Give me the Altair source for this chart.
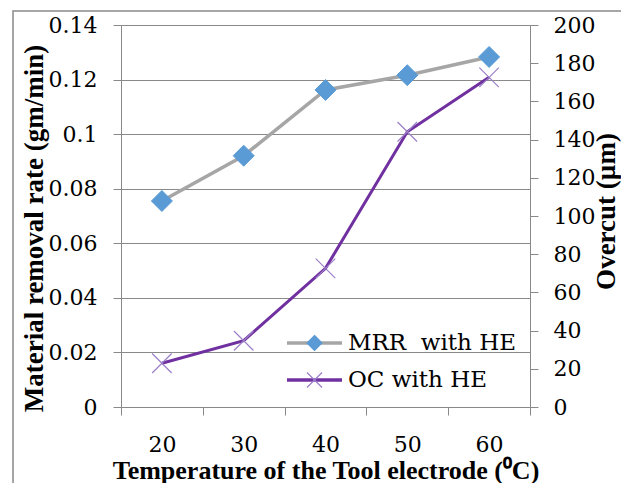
import altair as alt
import pandas as pd

# ---- data ----
temps = ["20", "30", "40", "50", "60"]
mrr = [0.0755, 0.0921, 0.1162, 0.1216, 0.1283]
oc = [22.9, 34.7, 72.6, 144.1, 172.6]
series_names = ["MRR\u00a0 with HE", "OC with HE"]
marker_names = ["mrr_marker", "oc_marker"]
left_ticks = [0, 0.02, 0.04, 0.06, 0.08, 0.1, 0.12, 0.14]
right_ticks = [0, 20, 40, 60, 80, 100, 120, 140, 160, 180, 200]

TFONT = "Liberation Serif"
LFONT = "DejaVu Serif"
GRID = "#898989"
MRR_LINE = "#A6A6A6"
OC_LINE = "#7030A0"
MRR_MARK = "#5B9BD5"
OC_MARK = "#9B7FC7"

mrr_df = pd.DataFrame({"temp": temps, "val": mrr,
                       "series": series_names[0], "marker": marker_names[0]})
oc_df = pd.DataFrame({"temp": temps, "val": oc,
                      "series": series_names[1], "marker": marker_names[1]})

x_enc = alt.X(
    "temp:N", sort=temps,
    scale=alt.Scale(type="band", paddingInner=0, paddingOuter=0),
    axis=alt.Axis(title="Temperature of the Tool electrode (\u2070C)",
                  tickBand="extent", labelAngle=0, tickSize=8,
                  labelPadding=19, labelFont=LFONT, labelFontSize=22,
                  titleFont=TFONT, titleFontSize=26,
                  titleBaseline="alphabetic", titleY=71),
)

color_scale = alt.Scale(domain=series_names, range=[MRR_LINE, OC_LINE])
shape_scale = alt.Scale(domain=marker_names,
                        range=["M0,-1L1,0L0,1L-1,0Z", "M-1,-1L1,1M-1,1L1,-1"])
fill_scale = alt.Scale(domain=marker_names, range=[MRR_MARK, "transparent"])
stroke_scale = alt.Scale(domain=marker_names, range=[MRR_MARK, OC_MARK])

LX, LY = 182, 306.5
leg_a = alt.Legend(title=None, orient="none", legendX=LX, legendY=LY,
                   symbolType="M-3.67,0H3.67", symbolSize=225,
                   symbolStrokeWidth=3.3, labelFont=LFONT, labelFontSize=23,
                   labelOffset=22, labelLimit=400, rowPadding=13, padding=0,
                   labelColor="black")
leg_b = alt.Legend(title=None, orient="none", legendX=LX, legendY=LY,
                   symbolSize=225, symbolStrokeWidth=1.2, labelFont=LFONT,
                   labelFontSize=23, labelOffset=22, labelLimit=400,
                   rowPadding=13, padding=0, labelColor="transparent",
                   labelExpr="''")

y_left = alt.Y(
    "val:Q", scale=alt.Scale(domain=[0, 0.14], nice=False),
    axis=alt.Axis(values=left_ticks, format="~g", grid=True, tickSize=8,
                  labelPadding=16, labelFont=LFONT, labelFontSize=22,
                  title="Material removal rate (gm/min)", titleFont=TFONT,
                  titleFontSize=27,
                  titleBaseline="alphabetic", titleX=-79, titleY=203,
                  titleAlign="center"),
)
y_right = alt.Y(
    "val:Q", scale=alt.Scale(domain=[0, 200], nice=False),
    axis=alt.Axis(orient="right", values=right_ticks, grid=False, tickSize=8,
                  labelPadding=15, labelFont=LFONT, labelFontSize=22,
                  title="Overcut (\u00b5m)", titleFont=TFONT, titleFontSize=27,
                  titleAngle=270,
                  titleBaseline="alphabetic", titleX=84, titleY=186,
                  titleAlign="center"),
)

mrr_line = alt.Chart(mrr_df).mark_line(strokeWidth=3.5).encode(
    x=x_enc, y=y_left,
    color=alt.Color("series:N", scale=color_scale, legend=leg_a))
mrr_pts = alt.Chart(mrr_df).mark_point(size=441, opacity=1, strokeWidth=1).encode(
    x=x_enc, y=y_left,
    shape=alt.Shape("marker:N", scale=shape_scale, legend=leg_b),
    fill=alt.Fill("marker:N", scale=fill_scale, legend=leg_b),
    stroke=alt.Stroke("marker:N", scale=stroke_scale, legend=leg_b))

oc_line = alt.Chart(oc_df).mark_line(strokeWidth=3).encode(
    x=x_enc, y=y_right,
    color=alt.Color("series:N", scale=color_scale, legend=leg_a))
oc_pts = alt.Chart(oc_df).mark_point(size=380, opacity=1, strokeWidth=1.2).encode(
    x=x_enc, y=y_right,
    shape=alt.Shape("marker:N", scale=shape_scale, legend=leg_b),
    fill=alt.Fill("marker:N", scale=fill_scale, legend=leg_b),
    stroke=alt.Stroke("marker:N", scale=stroke_scale, legend=leg_b))

border = alt.Chart(pd.DataFrame({"k": [0]})).mark_rect(
    fill="transparent", stroke=GRID, strokeWidth=1.5
).encode(x=alt.value(-108), x2=alt.value(504), y=alt.value(-14), y2=alt.value(480))

left = alt.layer(mrr_line, mrr_pts)
right = alt.layer(oc_line, oc_pts)

chart = alt.layer(border, left, right).resolve_scale(y="independent").properties(
    width=409, height=382,
    autosize=alt.AutoSizeParams(type="none"),
    padding={"left": 113, "top": 17, "right": 91, "bottom": 76},
).configure_view(strokeWidth=0).configure_axis(
    domainColor=GRID, tickColor=GRID, gridColor=GRID, gridWidth=1,
    domainWidth=1, tickWidth=1,
    labelColor="black", titleColor="black",
    titleFontWeight="bold",
)

chart.save("out.html", embed_options={"renderer": "svg", "actions": False})
